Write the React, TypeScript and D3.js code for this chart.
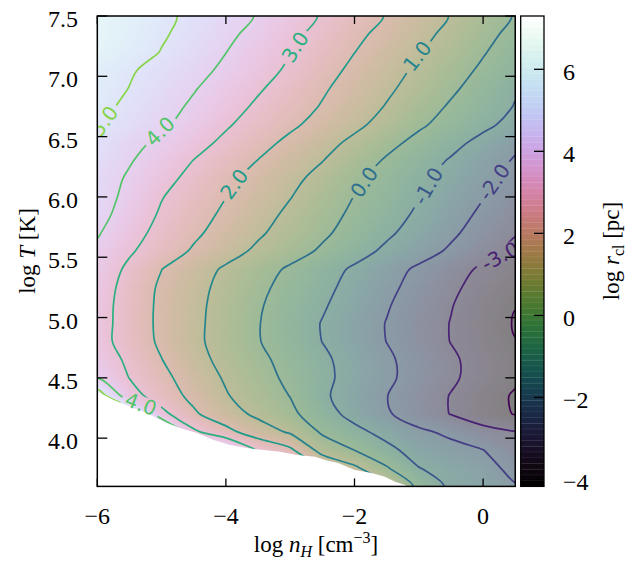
import React from "react";
import * as d3 from "d3";

// grid columns (log n_H) and rows (log T, top to bottom)
const logNH = [-6, -5.5, -5, -4.5, -4, -3.5, -3, -2.5, -2, -1.5, -1, -0.5, 0, 0.5];
const logT = [7.5, 7.35, 7.2, 7.05, 6.9, 6.75, 6.6, 6.45, 6.3, 6.15, 6.0, 5.85, 5.7, 5.55, 5.4, 5.25, 5.1, 4.95, 4.8, 4.65, 4.5, 4.35, 4.2, 4.05, 3.9, 3.75, 3.6];

// log r_cl [pc], one row per log T value
const logRcl = [
  [6.03, 5.62, 5.2, 4.78, 4.36, 3.94, 3.42, 2.92, 2.43, 1.95, 1.45, 0.96, 0.45, -0.06],
  [6.02, 5.57, 5.11, 4.66, 4.2, 3.72, 3.22, 2.72, 2.21, 1.73, 1.26, 0.77, 0.26, -0.25],
  [5.91, 5.44, 4.96, 4.49, 4.01, 3.52, 3.02, 2.52, 2.01, 1.53, 1.06, 0.56, 0.06, -0.44],
  [5.51, 5.1, 4.68, 4.27, 3.83, 3.35, 2.85, 2.32, 1.81, 1.33, 0.85, 0.35, -0.14, -0.64],
  [5.44, 4.98, 4.52, 4.06, 3.58, 3.1, 2.61, 2.11, 1.63, 1.15, 0.66, 0.15, -0.38, -0.91],
  [5.26, 4.8, 4.33, 3.86, 3.36, 2.86, 2.4, 1.94, 1.44, 0.95, 0.42, -0.1, -0.57, -1.04],
  [5.07, 4.61, 4.15, 3.64, 3.1, 2.62, 2.16, 1.69, 1.2, 0.68, 0.14, -0.34, -0.8, -1.28],
  [4.79, 4.29, 3.8, 3.31, 2.81, 2.3, 1.8, 1.31, 0.8, 0.26, -0.25, -0.74, -1.25, -1.82],
  [4.61, 4.07, 3.53, 2.98, 2.48, 1.98, 1.5, 1.02, 0.46, -0.1, -0.59, -1.08, -1.58, -2.08],
  [4.46, 3.88, 3.29, 2.73, 2.2, 1.7, 1.23, 0.71, 0.16, -0.34, -0.82, -1.3, -1.78, -2.26],
  [4.4, 3.76, 3.04, 2.52, 2.01, 1.52, 1.03, 0.51, -0.02, -0.49, -0.97, -1.47, -1.97, -2.47],
  [4.31, 3.58, 2.88, 2.35, 1.83, 1.32, 0.82, 0.32, -0.17, -0.65, -1.14, -1.65, -2.17, -2.69],
  [4.08, 3.35, 2.71, 2.16, 1.63, 1.12, 0.63, 0.15, -0.35, -0.86, -1.35, -1.85, -2.39, -2.94],
  [3.8, 3.11, 2.49, 1.89, 1.35, 0.83, 0.36, -0.13, -0.66, -1.17, -1.64, -2.13, -2.69, -3.24],
  [3.61, 2.81, 2.01, 1.43, 0.87, 0.37, -0.13, -0.63, -1.13, -1.64, -2.15, -2.65, -3.15, -3.55],
  [3.5, 2.64, 1.85, 1.29, 0.73, 0.2, -0.3, -0.78, -1.28, -1.79, -2.31, -2.83, -3.33, -3.8],
  [3.43, 2.57, 1.81, 1.23, 0.66, 0.09, -0.42, -0.91, -1.42, -1.93, -2.45, -2.96, -3.48, -3.98],
  [3.41, 2.56, 1.8, 1.21, 0.62, 0.04, -0.5, -1.04, -1.53, -2.03, -2.53, -3.03, -3.54, -4.06],
  [3.37, 2.58, 1.84, 1.2, 0.62, 0.05, -0.48, -1.01, -1.51, -2.01, -2.51, -3.02, -3.52, -3.98],
  [3.59, 2.81, 2.02, 1.32, 0.73, 0.21, -0.31, -0.84, -1.35, -1.86, -2.36, -2.86, -3.36, -3.85],
  [3.97, 2.98, 2.25, 1.55, 0.9, 0.36, -0.2, -0.79, -1.33, -1.84, -2.35, -2.86, -3.37, -3.85],
  [5.6, 3.43, 2.49, 1.77, 1.07, 0.52, -0.02, -0.85, -1.44, -1.98, -2.51, -3.04, -3.59, -4.1],
  [6.5, 6.0, 3.3, 2.13, 1.43, 0.8, 0.22, -0.58, -1.32, -1.9, -2.46, -3.03, -3.55, -4.05],
  [6.5, 6.5, 6.0, 3.2, 2.3, 1.51, 0.89, -0.12, -0.72, -1.32, -1.84, -2.17, -2.67, -2.95],
  [6.5, 6.5, 6.5, 5.5, 4.5, 2.9, 2.2, 0.64, 0.0, -0.73, -1.41, -1.73, -1.98, -2.62],
  [6.5, 6.5, 6.5, 6.0, 5.0, 4.0, 3.5, 2.0, 1.2, 0.1, -0.97, -1.35, -1.65, -2.28],
  [6.5, 6.5, 6.5, 6.0, 5.5, 4.5, 4.0, 3.0, 2.2, 1.3, -0.28, -1.2, -1.53, -1.93],
];

const contourLevels = [-4, -3, -2, -1, 0, 1, 2, 3, 4, 5];

// lower edge of the data (white region below)
const edgeNH = [-6, -5.745, -5.491, -5.227, -4.967, -4.714, -4.449, -4.19, -3.936, -3.672, -3.412, -3.159, -2.894, -2.614, -2.459, -2.256, -1.997, -1.733, -1.526, -1.37, -1.215, -1.168];
const edgeT = [4.385, 4.316, 4.26, 4.208, 4.136, 4.084, 4.042, 3.984, 3.943, 3.918, 3.901, 3.887, 3.86, 3.846, 3.818, 3.794, 3.735, 3.711, 3.68, 3.638, 3.611, 3.6];

// inline contour labels
const labelText = ["5.0", "4.0", "3.0", "2.0", "1.0", "0.0", "-1.0", "-2.0", "-3.0", "4.0"];
const labelLevel = [5, 4, 3, 2, 1, 0, -1, -2, -3, 4];
const labelNH = [-5.896, -5.025, -2.925, -3.874, -1.028, -1.852, -0.857, 0.17, 0.263, -5.32];
const labelT = [6.629, 6.546, 7.243, 6.107, 7.168, 6.124, 6.09, 6.124, 5.51, 4.283];
const labelAngle = [-54, -45, -57, -54, -52, -55, -60, -55, -28, 20];

const xTicks = [-6, -4, -2, 0];
const xTickLabels = ["\u22126", "\u22124", "\u22122", "0"];
const yTicks = [4.0, 4.5, 5.0, 5.5, 6.0, 6.5, 7.0, 7.5];
const yTickLabels = ["4.0", "4.5", "5.0", "5.5", "6.0", "6.5", "7.0", "7.5"];
const cbTicks = [-4, -2, 0, 2, 4, 6];
const cbTickLabels = ["\u22124", "\u22122", "0", "2", "4", "6"];
const cbRange = [-4.17, 7.3];

export default function App() {
  const W = 642, H = 561;
  const L = 97.3, R = 515.25, T = 16, B = 486.4;
  const CBL = 520.7, CBR = 544;
  const x = d3.scaleLinear().domain([-6, 0.5]).range([L, R]);
  const y = d3.scaleLinear().domain([3.6, 7.5]).range([B, T]);
  const cb = d3.scaleLinear().domain(cbRange).range([B, T]);

  const nx = logNH.length, ny = logT.length;
  const dxs = (logNH[nx - 1] - logNH[0]) / (nx - 1);
  const dys = (logT[ny - 1] - logT[0]) / (ny - 1);
  const values = logRcl.flat();
  const gx = (c: number) => x(logNH[0] + (c - 0.5) * dxs);
  const gy = (r: number) => y(logT[0] + (r - 0.5) * dys);

  const proj = d3.geoTransform({
    point: function (px: number, py: number) {
      (this as any).stream.point(gx(px), gy(py));
    },
  });
  const path = d3.geoPath(proj as any);
  const norm = d3.scaleLinear().domain(cbRange).range([0, 1]).clamp(true);
  const cmap = (v: number) => d3.interpolateCubehelixDefault(norm(v));
  const faded = (v: number) => d3.interpolateRgb(cmap(v), "#ffffff")(0.5);
  const lineColor = d3.scaleSequential(d3.interpolateViridis).domain([-4, 7]);

  const gen = d3.contours().size([nx, ny]);
  const step = 0.04;
  const fillTh = d3.range(-4.2, 6.8, step);
  const fills = fillTh.map((t) => ({ t, d: path(gen.contour(values, t) as any) || "" }));

  // smoothed contour lines
  const ringLine = d3.line<number[]>().x((p) => gx(p[0])).y((p) => gy(p[1])).curve(d3.curveCatmullRomClosed.alpha(0.5));
  const lines = contourLevels.map((l) => {
    const mp = gen.contour(values, l);
    const parts: string[] = [];
    mp.coordinates.forEach((poly) => poly.forEach((ring) => {
      const pts = ring.slice(0, ring.length - 1);
      if (pts.length > 2) parts.push(ringLine(pts as any) || "");
    }));
    return { l, d: parts.join(" ") };
  });

  const edgePts = edgeNH.map((v, i) => [x(v), y(edgeT[i])]);
  const whitePoly = [[x(-6.3), y(edgeT[0])], ...edgePts, [x(edgeNH[edgeNH.length - 1]), y(3.5)], [x(-6.3), y(3.5)]]
    .map((p) => p.join(",")).join(" ");

  const lblSize = 20;
  const labels = labelText.map((s, i) => ({
    s,
    cx: x(labelNH[i]),
    cy: y(labelT[i]),
    a: labelAngle[i],
    c: lineColor(labelLevel[i]),
    w: s.length * lblSize * 0.56 + 6,
  }));

  const nBands = 82;
  const bandVals = d3.range(nBands).map((i) => cbRange[0] + ((i + 0.5) * (cbRange[1] - cbRange[0])) / nBands);
  const bandH = (B - T) / nBands;

  const serif = "'Liberation Serif', 'Times New Roman', serif";
  const fs = 24;
  const afs = 23;

  return (
    <svg width={W} height={H} style={{ position: "absolute", left: 0, top: 0, background: "#fff" }} fontFamily={serif}>
      <defs>
        <clipPath id="plotclip">
          <rect x={L} y={T} width={R - L} height={B - T} />
        </clipPath>
        <mask id="lblmask" maskUnits="userSpaceOnUse" x={0} y={0} width={W} height={H}>
          <rect x={0} y={0} width={W} height={H} fill="white" />
          {labels.map((lb, i) => (
            <rect key={i} x={-lb.w / 2} y={-8} width={lb.w} height={16} fill="black"
              transform={`translate(${lb.cx},${lb.cy}) rotate(${lb.a})`} />
          ))}
        </mask>
      </defs>

      <g clipPath="url(#plotclip)">
        <rect x={L} y={T} width={R - L} height={B - T} fill={faded(-4.2)} />
        {fills.map((f, i) => (
          <path key={i} d={f.d} fill={faded(f.t + step / 2)} stroke={faded(f.t + step / 2)} strokeWidth={0.4} fillRule="evenodd" />
        ))}
        <g mask="url(#lblmask)">
          {lines.map((ln, i) => (
            <path key={i} d={ln.d} fill="none" stroke={lineColor(ln.l)} strokeWidth={1.7} strokeLinejoin="round" />
          ))}
        </g>
        <polygon points={whitePoly} fill="#ffffff" />
        {labels.map((lb, i) => (
          <text key={i} transform={`translate(${lb.cx},${lb.cy}) rotate(${lb.a})`} textAnchor="middle" dy="0.36em"
            fontFamily="'DejaVu Sans', sans-serif" fontSize={lblSize} fill={lb.c}>
            {lb.s}
          </text>
        ))}
      </g>

      {/* frame */}
      <rect x={L} y={T} width={R - L} height={B - T} fill="none" stroke="#000" strokeWidth={1.5} />
      {xTicks.map((t, i) => (
        <g key={"xt" + i}>
          <line x1={x(t)} x2={x(t)} y1={B} y2={B - 8} stroke="#000" strokeWidth={1.3} />
          <line x1={x(t)} x2={x(t)} y1={T} y2={T + 8} stroke="#000" strokeWidth={1.3} />
          <text x={x(t)} y={524} textAnchor="middle" fontSize={fs}>{xTickLabels[i]}</text>
        </g>
      ))}
      {yTicks.map((t, i) => (
        <g key={"yt" + i}>
          <line x1={L} x2={L + 10} y1={y(t)} y2={y(t)} stroke="#000" strokeWidth={1.3} />
          <line x1={R} x2={R - 10} y1={y(t)} y2={y(t)} stroke="#000" strokeWidth={1.3} />
          <text x={78} y={y(t) + 11} textAnchor="end" fontSize={fs}>{yTickLabels[i]}</text>
        </g>
      ))}

      {/* axis labels */}
      <text transform={`translate(35,251) rotate(-90)`} textAnchor="middle" fontSize={afs}>
        log{" "}<tspan fontStyle="italic">T</tspan>{" "}[K]
      </text>
      <text x={316} y={552} textAnchor="middle" fontSize={afs}>
        log{" "}<tspan fontStyle="italic">n</tspan>
        <tspan fontStyle="italic" fontSize={16} dy={5}>H</tspan>
        <tspan dy={-5}>{" [cm"}</tspan>
        <tspan fontSize={16} dy={-9}>{"\u22123"}</tspan>
        <tspan dy={9}>]</tspan>
      </text>

      {/* colorbar */}
      <g>
        {bandVals.map((v, i) => (
          <rect key={i} x={CBL} y={B - (i + 1) * bandH} width={CBR - CBL} height={bandH + 0.4} fill={cmap(v)} />
        ))}
        {bandVals.slice(1).map((v, i) => (
          <line key={"bl" + i} x1={CBL} x2={CBR} y1={B - (i + 1) * bandH} y2={B - (i + 1) * bandH}
            stroke="#fff" strokeOpacity={0.12} strokeWidth={0.6} />
        ))}
        <rect x={CBL} y={T} width={CBR - CBL} height={B - T} fill="none" stroke="#000" strokeWidth={1.3} />
        {cbTicks.map((t, i) => (
          <g key={"ct" + i}>
            <line x1={CBR} x2={CBR - 10} y1={cb(t)} y2={cb(t)} stroke="#000" strokeWidth={1.3} />
            <text x={563} y={cb(t) + 11} fontSize={fs}>{cbTickLabels[i]}</text>
          </g>
        ))}
        <text transform={`translate(619,251) rotate(-90)`} textAnchor="middle" fontSize={afs}>
          log{" "}<tspan fontStyle="italic">r</tspan>
          <tspan fontSize={16} dy={5}>cl</tspan>
          <tspan dy={-5}>{" [pc]"}</tspan>
        </text>
      </g>
    </svg>
  );
}
